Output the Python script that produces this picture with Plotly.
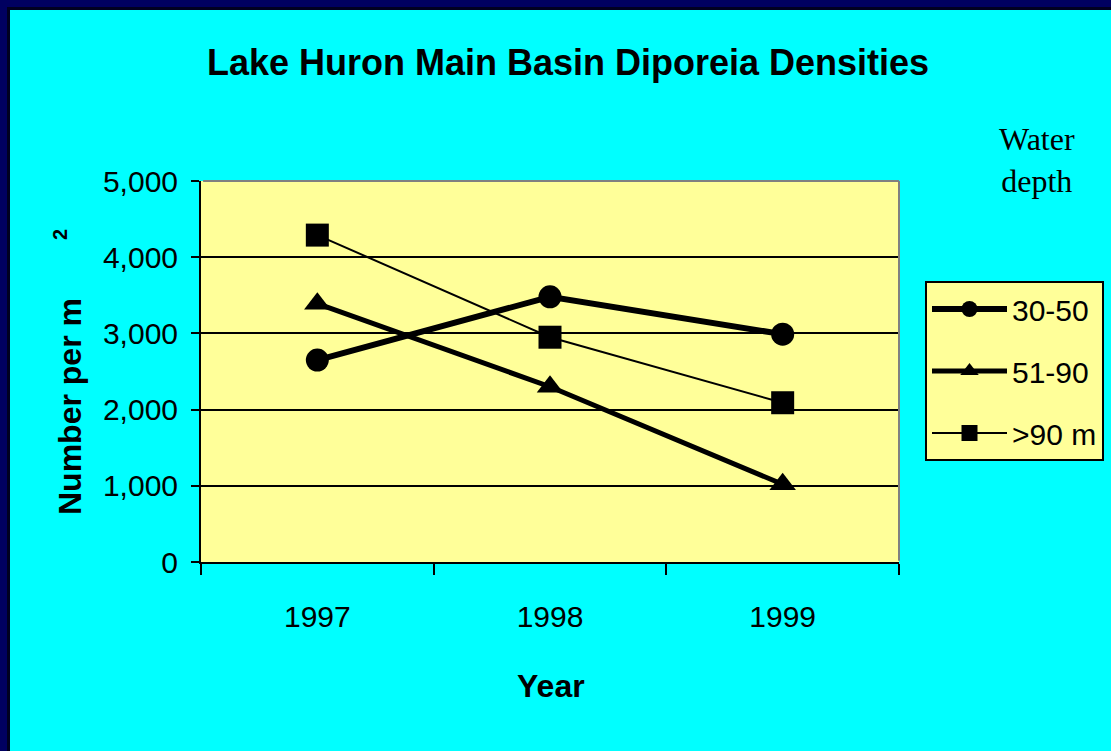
import plotly.graph_objects as go

years = ["1997", "1998", "1999"]
depth_30_50 = [2650, 3480, 2990]
depth_51_90 = [3390, 2300, 1020]
depth_over_90 = [4290, 2950, 2090]
series_names = ["30-50", "51-90", ">90 m"]
y_ticks = [0, 1000, 2000, 3000, 4000, 5000]
y_tick_labels = ["0", "1,000", "2,000", "3,000", "4,000", "5,000"]

W, H = 1111, 751
ML, MR, MT, MB = 201, 212, 181, 189
PW, PH = W - ML - MR, H - MT - MB


def px(x):
    return (x - ML) / PW


def py(y):
    return (H - MB - y) / PH


SANS = "Liberation Sans, Arial, sans-serif"
SERIF = "Liberation Serif, Times New Roman, serif"

fig = go.Figure()
styles = [
    (depth_30_50, "circle", 6),
    (depth_51_90, "triangle-up", 5),
    (depth_over_90, "square", 2),
]
for i, (vals, sym, lw) in enumerate(styles):
    fig.add_trace(go.Scatter(
        x=years, y=vals, name=series_names[i], mode="lines+markers",
        line=dict(color="black", width=lw),
        marker=dict(symbol=sym, size=23, color="black"),
        legendgroup=f"g{i}",
    ))

fig.update_layout(
    width=W, height=H,
    margin=dict(l=ML, r=MR, t=MT, b=MB, autoexpand=False),
    paper_bgcolor="#00FFFF",
    plot_bgcolor="#FFFF99",
    font=dict(family=SANS, color="black"),
    title=dict(
        text="<b>Lake Huron Main Basin Diporeia Densities</b>",
        font=dict(family=SANS, size=36, color="black"),
        x=568 / W, y=1 - 62 / H, xref="container", yref="container",
        xanchor="center", yanchor="middle",
    ),
    showlegend=True,
    legend=dict(
        x=px(925), y=py(281), xanchor="left", yanchor="top",
        bgcolor="#FFFF99", bordercolor="black", borderwidth=2,
        font=dict(family=SANS, size=30, color="black"),
        tracegroupgap=20, itemwidth=75,
    ),
    xaxis=dict(
        type="category", range=[-0.5, 2.5], tickson="boundaries",
        ticks="outside", ticklen=11, tickwidth=2, tickcolor="black",
        showline=True, linecolor="black", linewidth=2,
        showgrid=False, zeroline=False,
        tickfont=dict(family=SANS, size=30, color="black"),
        ticklabelstandoff=27,
    ),
    yaxis=dict(
        range=[0, 5000], tickvals=y_ticks, ticktext=y_tick_labels,
        ticks="outside", ticklen=8, tickwidth=2, tickcolor="black",
        showline=True, linecolor="black", linewidth=2,
        showgrid=True, gridcolor="black", gridwidth=2, zeroline=False,
        tickfont=dict(family=SANS, size=30, color="black"),
        ticklabelstandoff=7,
    ),
)

fig.add_annotation(text="<b>Year</b>", x=px(551), y=py(686), xref="paper", yref="paper",
                   showarrow=False, font=dict(family=SANS, size=32, color="black"),
                   xanchor="center", yanchor="middle")
fig.add_annotation(text="<b>Number per m</b>", x=px(70), y=py(407), xref="paper", yref="paper",
                   showarrow=False, textangle=-90, font=dict(family=SANS, size=32, color="black"),
                   xanchor="center", yanchor="middle")
fig.add_annotation(text="<b>2</b>", x=px(60), y=py(235), xref="paper", yref="paper",
                   showarrow=False, textangle=-90, font=dict(family=SANS, size=20, color="black"),
                   xanchor="center", yanchor="middle")
fig.add_annotation(text="Water<br>depth", x=px(1037), y=py(160), xref="paper", yref="paper",
                   showarrow=False, align="center", font=dict(family=SERIF, size=32, color="black"),
                   xanchor="center", yanchor="middle")

# frame of the slide: navy strips on the left and top with a dark inner edge
fig.add_shape(type="rect", xref="paper", yref="paper", x0=px(0), x1=px(7), y0=py(H), y1=py(0),
              fillcolor="#000060", line=dict(width=0), layer="above")
fig.add_shape(type="rect", xref="paper", yref="paper", x0=px(0), x1=px(W), y0=py(7), y1=py(0),
              fillcolor="#000060", line=dict(width=0), layer="above")
fig.add_shape(type="rect", xref="paper", yref="paper", x0=px(7), x1=px(10), y0=py(H), y1=py(7),
              fillcolor="#000020", line=dict(width=0), layer="above")
fig.add_shape(type="rect", xref="paper", yref="paper", x0=px(7), x1=px(W), y0=py(10), y1=py(7),
              fillcolor="#000020", line=dict(width=0), layer="above")
# grey top and right edges of the plot area
fig.add_shape(type="line", xref="paper", yref="paper", x0=0.003, x1=1, y0=1, y1=1,
              line=dict(color="#808080", width=2), layer="above")
fig.add_shape(type="line", xref="paper", yref="paper", x0=1, x1=1, y0=0.003, y1=1,
              line=dict(color="#808080", width=2), layer="above")

fig.write_html("out.html", config={"displayModeBar": False},
               post_script="document.body.style.margin='0';")
